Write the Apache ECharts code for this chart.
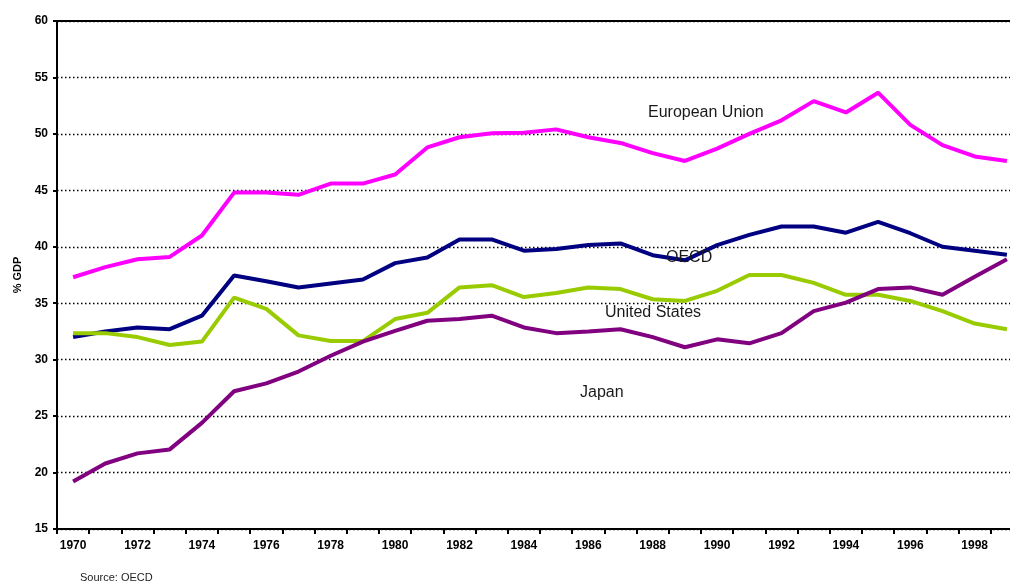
<!DOCTYPE html>
<html lang="en">
<head>
    <meta charset="UTF-8">
    <script src="https://cdn.jsdelivr.net/npm/echarts@6/dist/echarts.min.js"></script>
    <title>% GDP</title>
    <style type="text/css">
        html, body { margin: 0; padding: 0; background: #fff; }
        #main { width: 1010px; height: 587px; }
    </style>
</head>
<body>
<div id="main"></div>
<script type="text/javascript">
    // years on the x axis
    const years = [];
    for (let y = 1970; y <= 1999; y++) years.push(String(y));

    // values (% of GDP)
    const euValues = [37.3, 38.2, 38.9, 39.1, 41.0, 44.8, 44.8, 44.6, 45.6, 45.6,
        46.4, 48.8, 49.7, 50.05, 50.1, 50.4, 49.7, 49.2, 48.3, 47.6,
        48.7, 50.0, 51.2, 52.9, 51.9, 53.65, 50.8, 49.0, 48.0, 47.6];
    const oecdValues = [32.0, 32.5, 32.85, 32.7, 33.9, 37.45, 36.95, 36.4, 36.75, 37.1,
        38.55, 39.05, 40.65, 40.65, 39.65, 39.8, 40.15, 40.3, 39.25, 38.8,
        40.15, 41.05, 41.8, 41.8, 41.25, 42.2, 41.2, 40.0, 39.65, 39.3];
    const usValues = [32.35, 32.35, 32.0, 31.3, 31.6, 35.5, 34.5, 32.15, 31.65, 31.65,
        33.6, 34.15, 36.4, 36.6, 35.55, 35.9, 36.4, 36.25, 35.35, 35.2,
        36.1, 37.5, 37.5, 36.8, 35.75, 35.75, 35.2, 34.3, 33.2, 32.7];
    const japanValues = [19.2, 20.8, 21.7, 22.05, 24.4, 27.2, 27.9, 28.95, 30.35, 31.6,
        32.55, 33.45, 33.6, 33.9, 32.85, 32.35, 32.5, 32.7, 32.0, 31.1,
        31.8, 31.45, 32.35, 34.3, 35.05, 36.25, 36.4, 35.75, 37.35, 38.9];

    const yTicks = { min: 15, max: 60, interval: 5 };

    const myChart = echarts.init(document.getElementById('main'));

    const labelFont = {
        fontFamily: 'Liberation Sans, Arial, sans-serif',
        fontSize: 12,
        fontWeight: 'bold',
        color: '#000'
    };

    function lineSeries(name, data, color) {
        return {
            name: name,
            type: 'line',
            data: data,
            symbol: 'none',
            smooth: false,
            lineStyle: { color: color, width: 4 },
            itemStyle: { color: color },
            animation: false
        };
    }

    function note(text, left, top) {
        return {
            type: 'text',
            left: left,
            top: top,
            z: 100,
            style: {
                text: text,
                fill: '#1a1a1a',
                font: '16px "Liberation Sans", Arial, sans-serif'
            }
        };
    }

    const option = {
        backgroundColor: '#fff',
        animation: false,
        grid: {
            left: 57,
            top: 21,
            width: 966,
            height: 508,
            // the plot runs past the right edge of the picture
            outerBoundsMode: 'none'
        },
        xAxis: [{
            type: 'category',
            data: years,
            boundaryGap: true,
            axisLine: { lineStyle: { color: '#000', width: 2 } },
            axisTick: { show: true, interval: 0, length: 5, lineStyle: { color: '#000', width: 2 } },
            axisLabel: Object.assign({ interval: 1, margin: 11 }, labelFont),
            splitLine: { show: false }
        }, {
            type: 'category',
            data: years,
            position: 'top',
            axisLine: { lineStyle: { color: '#000', width: 2 } },
            axisTick: { show: false },
            axisLabel: { show: false }
        }],
        yAxis: {
            type: 'value',
            min: yTicks.min,
            max: yTicks.max,
            interval: yTicks.interval,
            name: '% GDP',
            nameLocation: 'middle',
            nameGap: 34,
            nameTextStyle: Object.assign({}, labelFont, { fontSize: 11 }),
            axisLine: { show: true, lineStyle: { color: '#000', width: 2 } },
            axisTick: { show: true, length: 4, lineStyle: { color: '#000', width: 2 } },
            axisLabel: Object.assign({ margin: 9 }, labelFont),
            splitLine: { show: true, lineStyle: { color: '#000', width: 1.3, type: [1.5, 2.5] } }
        },
        series: [
            lineSeries('European Union', euValues, '#ff00ff'),
            lineSeries('OECD', oecdValues, '#000080'),
            lineSeries('United States', usValues, '#99cc00'),
            lineSeries('Japan', japanValues, '#800080')
        ],
        graphic: [
            note('European Union', 648, 105),
            note('OECD', 666, 250),
            note('United States', 605, 305),
            note('Japan', 580, 385),
            {
                type: 'text',
                left: 80,
                top: 572,
                style: {
                    text: 'Source: OECD',
                    fill: '#222',
                    font: '11px "Liberation Sans", Arial, sans-serif'
                }
            }
        ]
    };

    myChart.setOption(option);
</script>
</body>
</html>
